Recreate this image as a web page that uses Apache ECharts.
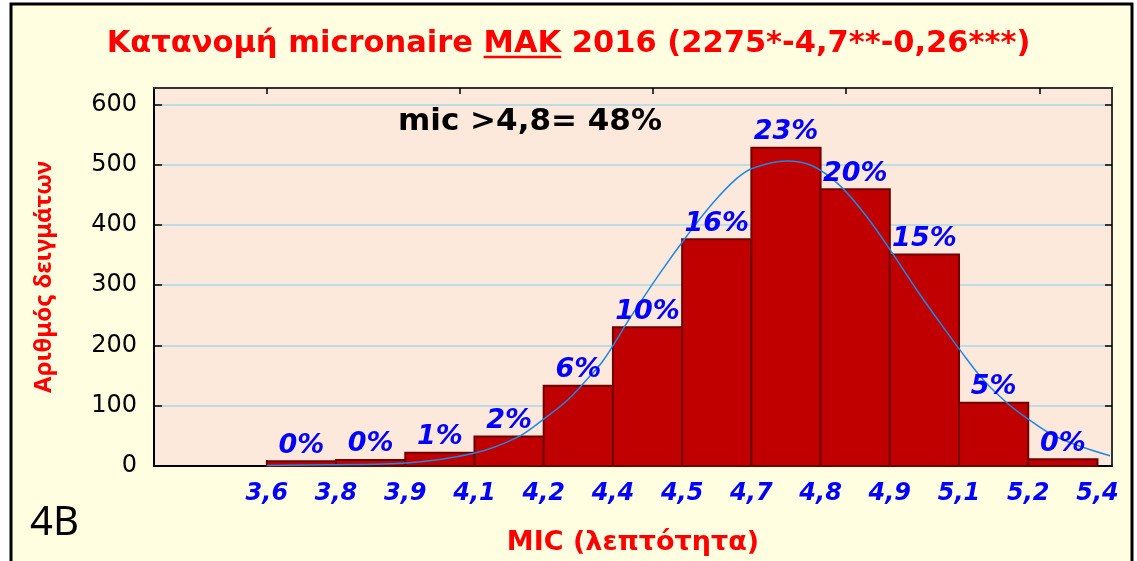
<!DOCTYPE html>
<html>
<head>
<meta charset="utf-8">
<script src="https://cdn.jsdelivr.net/npm/echarts@6/dist/echarts.min.js"></script>
<style>
  html, body { margin: 0; padding: 0; background: #fff; }
  #main { width: 1137px; height: 561px; }
</style>
</head>
<body>
<div id="main"></div>
<script>
// bin edge labels (MIC)
const binLabels = ['3,6', '3,8', '3,9', '4,1', '4,2', '4,4', '4,5', '4,7', '4,8', '4,9', '5,1', '5,2', '5,4'];
// number of samples per bin
const counts = [8, 10, 22, 49, 133, 230, 376, 528, 459, 351, 105, 11];
const percents = ['0%', '0%', '1%', '2%', '6%', '10%', '16%', '23%', '20%', '15%', '5%', '0%'];
// fitted curve (x in bin units)
const curveX = [0, 0.91, 2.02, 2.99, 3.61, 3.99, 4.35, 4.62, 4.86, 5.25, 5.68, 6.07, 6.45, 6.79, 7.02, 7.51,
                7.88, 8.28, 8.67, 9.02, 9.39, 9.73, 10.01, 10.35, 10.69, 11.01, 11.36, 11.79, 12.18];
const curveY = [1, 2, 5, 21, 47, 77, 110, 143, 175, 246, 320, 382, 437, 477, 494, 506,
                498, 465, 413, 356, 292, 237, 193, 143, 105, 77, 51, 31, 17];
const tickPos = [0, 2.79, 5.58, 8.37, 11.16];
const yTicks = [0, 100, 200, 300, 400, 500, 600];

const titleText = 'Κατανομή micronaire ΜΑΚ 2016 (2275*-4,7**-0,26***)';
const titleFont = 'bold 30.5px "DejaVu Sans"';

let myChart = echarts.init(document.getElementById('main'));

// where to put the underline under ΜΑΚ
let ctx = document.createElement('canvas').getContext('2d');
ctx.font = titleFont;
let fullW = ctx.measureText(titleText).width;
let preW = ctx.measureText('Κατανομή micronaire ').width;
let makW = ctx.measureText('ΜΑΚ').width;
let titleLeft = (1137 - fullW) / 2;

let binLabelIdx = binLabels.map((l, i) => i);

let option = {
    animation: false,
    title: {
        text: titleText,
        left: 'center',
        top: 24,
        textStyle: {
            color: '#FF0000',
            fontFamily: 'DejaVu Sans',
            fontWeight: 'bold',
            fontSize: 30.5
        }
    },
    graphic: [
        {
            type: 'rect', z: -100, silent: true,
            shape: { x: 11, y: 4, width: 1121, height: 600 },
            style: { fill: '#FFFEE0', stroke: '#000', lineWidth: 3 }
        },
        {
            type: 'line', z: 10, silent: true,
            shape: { x1: titleLeft + preW, y1: 57, x2: titleLeft + preW + makW, y2: 57 },
            style: { stroke: '#FF0000', lineWidth: 2.5 }
        },
        {
            type: 'text', left: 398, top: 106, z: 10,
            style: { text: 'mic >4,8= 48%', fill: '#000', font: 'bold 31px "DejaVu Sans"' }
        },
        {
            type: 'text', left: 30, top: 504, z: 10,
            style: { text: '4B', fill: '#000', font: '40px "Noto Sans"' }
        }
    ],
    grid: {
        left: 154,
        top: 88,
        right: 25,
        bottom: 94,
        show: true,
        backgroundColor: '#FCE9DB',
        borderColor: '#333',
        borderWidth: 2
    },
    xAxis: [
        {
            type: 'value',
            min: -1.63,
            max: 12.21,
            name: 'MIC (λεπτότητα)',
            nameLocation: 'middle',
            nameGap: 63,
            nameTextStyle: { color: '#FF0000', fontFamily: 'DejaVu Sans', fontWeight: 'bold', fontSize: 27 },
            axisLine: { onZero: false, lineStyle: { color: '#000', width: 2 } },
            axisTick: { inside: true, length: 6, customValues: tickPos, lineStyle: { color: '#000', width: 1.5 } },
            axisLabel: {
                customValues: binLabelIdx,
                formatter: v => binLabels[Math.round(v)],
                color: '#0000FF', fontFamily: 'DejaVu Sans', fontWeight: 'bold', fontStyle: 'italic',
                fontSize: 24, margin: 16
            },
            splitLine: { show: false }
        },
        {
            type: 'value',
            position: 'top',
            min: -1.63,
            max: 12.21,
            axisLine: { onZero: false, lineStyle: { color: '#333', width: 2 } },
            axisTick: { inside: true, length: 6, customValues: tickPos, lineStyle: { color: '#000', width: 1.5 } },
            axisLabel: { show: false },
            splitLine: { show: false }
        }
    ],
    yAxis: [
        {
            type: 'value',
            min: 0,
            max: 627,
            interval: 100,
            name: 'Αριθμός δειγμάτων',
            nameLocation: 'middle',
            nameRotate: 90,
            nameGap: 98,
            nameTextStyle: { color: '#FF0000', fontFamily: 'Noto Sans', fontWeight: 'bold', fontSize: 24 },
            axisLine: { show: true, onZero: false, lineStyle: { color: '#000', width: 2 } },
            axisTick: { show: true, inside: true, length: 8, customValues: yTicks, lineStyle: { color: '#000', width: 1.5 } },
            axisLabel: {
                customValues: yTicks,
                color: '#000', fontFamily: 'DejaVu Sans', fontSize: 24, margin: 17
            },
            splitLine: { lineStyle: { color: '#A8D8EA', width: 1.5 } }
        },
        {
            type: 'value',
            position: 'right',
            min: 0,
            max: 627,
            interval: 100,
            axisLine: { show: true, onZero: false, lineStyle: { color: '#333', width: 2 } },
            axisTick: { show: true, inside: true, length: 7, customValues: yTicks, lineStyle: { color: '#000', width: 1.5 } },
            axisLabel: { show: false },
            splitLine: { show: false }
        }
    ],
    series: [
        {
            type: 'custom',
            z: 2,
            data: counts.map((v, i) => [i, v]),
            renderItem: function (params, api) {
                let i = api.value(0);
                let p0 = api.coord([i, 0]);
                let p1 = api.coord([i + 1, api.value(1)]);
                return {
                    type: 'rect',
                    shape: { x: p0[0], y: p1[1], width: p1[0] - p0[0], height: p0[1] - p1[1] },
                    style: { fill: '#C00000', stroke: '#700000', lineWidth: 2 }
                };
            }
        },
        {
            type: 'line',
            z: 3,
            smooth: 0.35,
            showSymbol: false,
            data: curveX.map((x, i) => [x, curveY[i]]),
            lineStyle: { color: '#1E88E5', width: 1.5 }
        },
        {
            type: 'custom',
            z: 4,
            data: counts.map((v, i) => [i, v]),
            renderItem: function (params, api) {
                let i = api.value(0);
                let p = api.coord([i + 0.5, api.value(1)]);
                return {
                    type: 'text',
                    x: p[0],
                    y: p[1] - 2,
                    style: {
                        text: percents[params.dataIndex],
                        textAlign: 'center',
                        textVerticalAlign: 'bottom',
                        fill: '#0000FF',
                        font: 'italic bold 27px "DejaVu Sans"'
                    }
                };
            }
        }
    ]
};
myChart.setOption(option);
</script>
</body>
</html>
